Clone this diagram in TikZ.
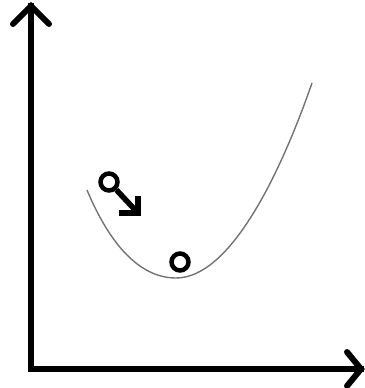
\documentclass[tikz,border=0pt]{standalone}
\begin{document}
\begin{tikzpicture}[x=1pt,y=-1pt,
  axis/.style={line width=6pt,black},
  ball/.style={circle,draw=black,line width=4.5pt,minimum size=17pt,inner sep=0pt},
  push/.style={line width=5.5pt,black},
  valley/.style={line width=1.4pt,black!55}]
\useasboundingbox (0,0) rectangle (364,388);
% axes
\coordinate (origin) at (31,369);
\coordinate (ytop) at (31,6);
\coordinate (xend) at (361,369);
\draw[axis,line cap=rect] (ytop) -- (origin) -- (xend);
\draw[axis,line cap=round,line join=miter] (ytop) ++(-18,18) -- (ytop) -- ++(18,18);
\draw[axis,line cap=round,line join=miter] (xend) ++(-14,-17) -- (xend) -- ++(-14,17);
% valley curve
\coordinate (vstart) at (87,190);
\coordinate (vbottom) at (176,278);
\coordinate (vend) at (312,83);
\draw[valley] (vstart) .. controls (110,245) and (140,278) .. (vbottom)
  .. controls (230,278) and (280,175) .. (vend);
% balls
\node[ball] (ballA) at (109,182) {};
\node[ball] (ballB) at (180,262) {};
\coordinate (tip) at (138,213);
\draw[push,line cap=butt] (ballA) -- (tip);
\draw[push,line cap=butt,line join=miter] (tip) ++(-19,0) -- (tip) -- ++(0,-17);
\end{tikzpicture}
\end{document}
